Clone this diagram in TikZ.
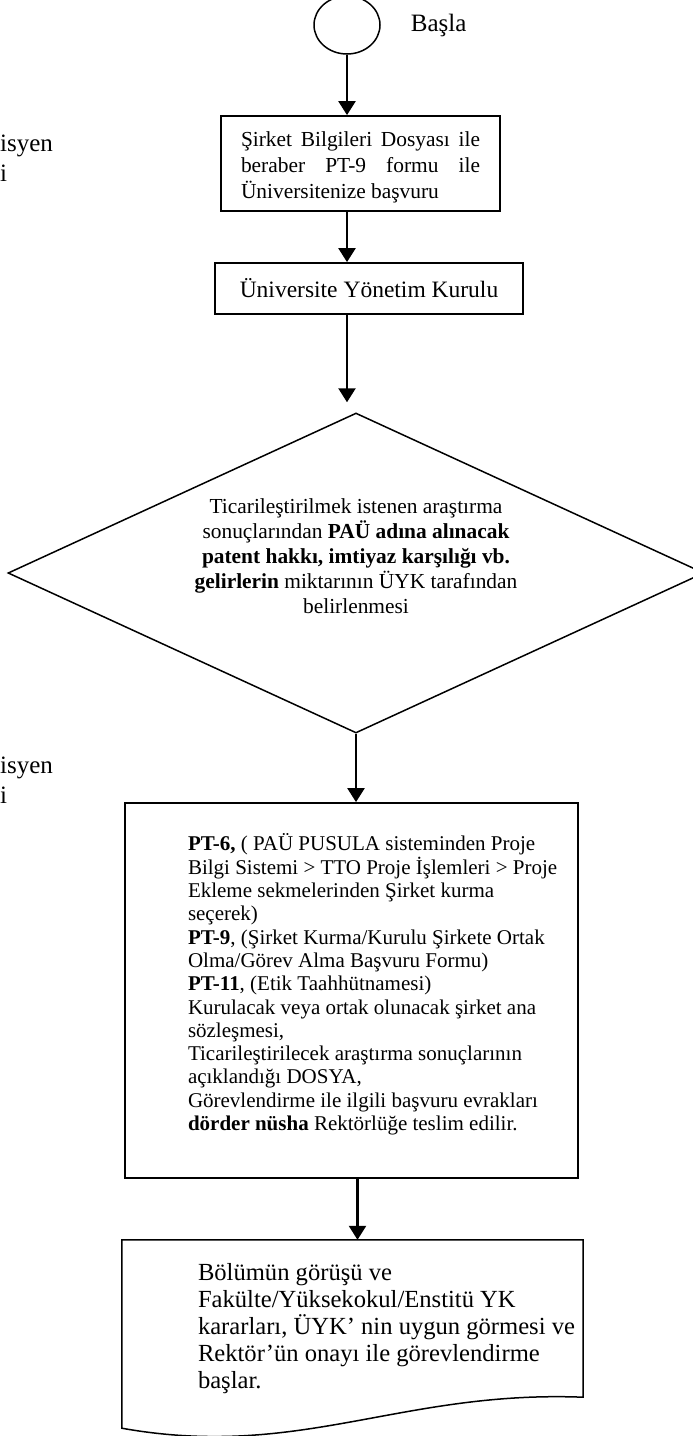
\documentclass[tikz,border=0pt]{standalone}
\usepackage{fontspec}
\setmainfont{Liberation Serif}
\usepackage{tikz}
\usetikzlibrary{shapes.geometric, arrows.meta}
\newcommand{\normalyazi}{\fontsize{21.4}{26}\selectfont}
\newcommand{\sikyazi}{\fontsize{21}{23.3}\selectfont}
\newcommand{\buyukyazi}{\fontsize{25}{29.5}\selectfont}
\tikzset{
x=1pt, y=-1pt, % pixel-like units, y grows downward
>={Triangle[length=14pt,width=17pt]}, % filled arrow heads
ok/.style={draw, ->, line width=2.4pt}, % arrows between the steps
kutu/.style={draw, line width=1.8pt, inner sep=0pt, font=\normalyazi}, % process boxes
}

\begin{document}
\begin{tikzpicture}
    \useasboundingbox (0,0) rectangle (693,1436);

    \node[ellipse, draw, line width=1.5pt, minimum width=66pt, minimum height=58pt,
          label={[font=\buyukyazi, inner sep=0pt, label distance=30pt]right:Başla}] (basla) at (347,25) {};
    \node[kutu, minimum width=279pt, minimum height=95pt] (bilgi) at (360.5,163.5)
        {\raisebox{-4pt}[\height][\depth]{\parbox[c]{239pt}{
         Şirket\hfill Bilgileri\hfill Dosyası\hfill ile\\
         beraber\hfill PT-9\hfill formu\hfill ile\\
         Üniversitenize başvuru}}};
    \node[kutu, minimum width=308pt, minimum height=51pt, font=\fontsize{23.5}{28}\selectfont] (uyk) at (369,288.5) {Üniversite Yönetim Kurulu};
    \node[diamond, draw, line width=1.5pt, shape aspect=2.2, inner sep=0pt, minimum width=696pt, minimum height=320pt,
          font=\fontsize{21.4}{25}\selectfont] (karar) at (356,573)
        {\raisebox{12pt}[0pt][0pt]{\parbox[c]{345pt}{\centering
         Ticarileştirilmek istenen araştırma\\
         sonuçlarından \textbf{PAÜ adına alınacak}\\
         \textbf{patent hakkı, imtiyaz karşılığı vb.}\\
         \textbf{gelirlerin} miktarının ÜYK tarafından\\
         belirlenmesi}}};
    \node[kutu, inner xsep=15pt, minimum height=375pt, font=\sikyazi] (evrak) at (351.5,990.5)
        {\hspace*{48pt}\raisebox{6pt}[\height][\depth]{\parbox[c]{375pt}{\raggedright
         \textbf{PT-6,} ( PAÜ PUSULA sisteminden Proje\\
         Bilgi Sistemi > TTO Proje İşlemleri > Proje\\
         Ekleme sekmelerinden Şirket kurma\\
         seçerek)\\
         \textbf{PT-9}, (Şirket Kurma/Kurulu Şirkete Ortak\\
         Olma/Görev Alma Başvuru Formu)\\
         \textbf{PT-11}, (Etik Taahhütnamesi)\\
         Kurulacak veya ortak olunacak şirket ana\\
         sözleşmesi,\\
         Ticarileştirilecek araştırma sonuçlarının\\
         açıklandığı DOSYA,\\
         Görevlendirme ile ilgili başvuru evrakları\\
         \textbf{dörder nüsha} Rektörlüğe teslim edilir.}}};
    \node[inner xsep=8pt, minimum width=461pt, minimum height=177pt, font=\fontsize{24.6}{27}\selectfont] (gorev) at (352.5,1328.5)
        {\hspace*{68pt}\parbox[c]{377pt}{\raggedright
         Bölümün görüşü ve\\
         Fakülte/Yüksekokul/Enstitü YK\\
         kararları, ÜYK’ nin uygun görmesi ve\\
         Rektör’ün onayı ile görevlendirme\\
         başlar.}};
    \node[anchor=west, align=left, inner sep=0pt, font=\buyukyazi] (yan1) at (0,158) {isyen\\i};
    \node[anchor=west, align=left, inner sep=0pt, font=\buyukyazi] (yan2) at (0,780) {isyen\\i};

    % document shape with the wavy bottom
    \draw[line width=1.5pt] (gorev.north west) -- (gorev.north east) -- ([yshift=20pt]gorev.south east)
        .. controls (400,1390) and (300,1460) .. ([yshift=-11pt]gorev.south west) -- cycle;

    \coordinate (kararust) at ([yshift=10pt]karar.north);
    \coordinate (evrakalt) at ([xshift=6pt]evrak.south);
    \path (basla.south) edge[ok] (basla.south |- bilgi.north)
          (bilgi.south -| basla) edge[ok] (uyk.north -| basla)
          (uyk.south -| basla) edge[ok] (kararust -| basla)
          (karar.south) edge[ok] (karar.south |- evrak.north)
          (evrakalt) edge[ok] (evrakalt |- gorev.north);
\end{tikzpicture}
\end{document}
